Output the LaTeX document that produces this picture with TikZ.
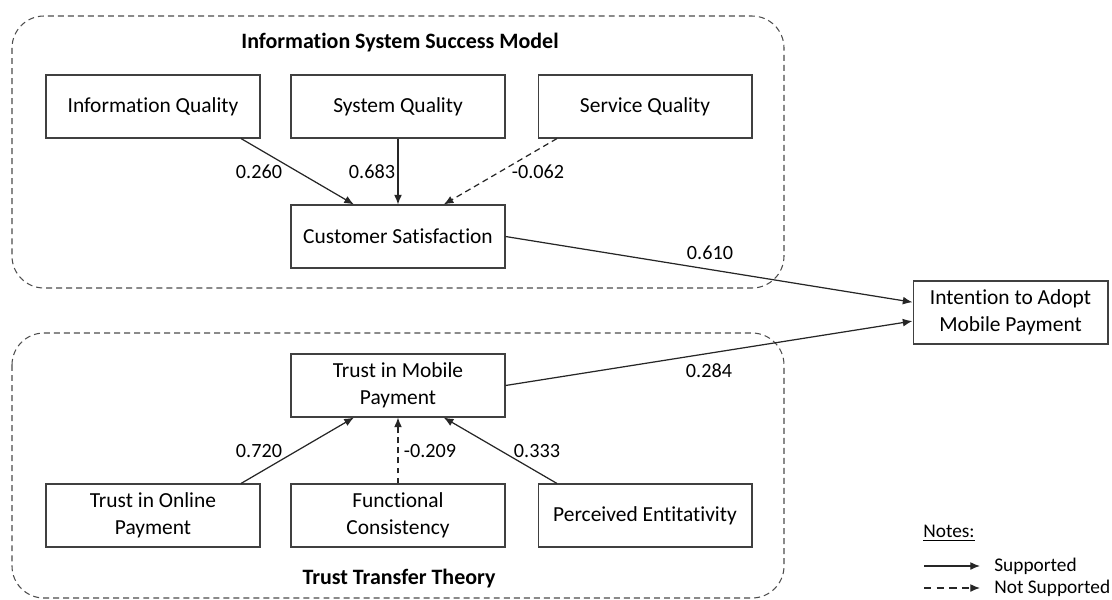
\documentclass[tikz,border=0pt]{standalone}
\usepackage{fontspec}
\setmainfont{Carlito}[Ligatures=NoCommon]
\usetikzlibrary{arrows.meta}
\begin{document}
\begin{tikzpicture}[x=0.02cm,y=-0.02cm,
	box/.style={draw=black!75,line width=0.6pt,minimum width=4.28cm,minimum height=1.26cm,align=center,inner sep=2pt,font=\fontsize{12.2}{15.3}\selectfont},
	grp/.style={draw=black!70,line width=0.6pt,dash pattern=on 3.4pt off 2.3pt,rounded corners=0.64cm},
	pfeil/.style={-{Latex[length=5.5pt,width=4.5pt]},line width=0.7pt,black!85},
	nicht/.style={pfeil,dash pattern=on 3.4pt off 2.3pt},
	wert/.style={font=\fontsize{11.5}{13}\selectfont,inner sep=0pt},
	titel/.style={font=\bfseries\fontsize{12.5}{14}\selectfont,inner sep=0pt}]
	\useasboundingbox (0,0) rectangle (1112,599);
	%\draw[step=50,gray!20] (0,0) grid (1112,599); %Hilfsgitter
	\draw[grp] (12,16) rectangle (784,288);
	\draw[grp] (12,333) rectangle (784,598);
	\node[titel] (ismT) at (400,43) {Information System Success Model};
	\node[titel] (tttT) at (399,579) {Trust Transfer Theory};
	% ISSM
	\node[box] (iq) at (153,106.5) {Information Quality};
	\node[box] (syq) at (398,106.5) {System Quality};
	\node[box] (seq) at (645,106.5) {Service Quality};
	\node[box] (cs) at (398,236.5) {Customer Satisfaction};
	% Trust
	\node[box] (tmp) at (398,385.5) {Trust in Mobile\\Payment};
	\node[box] (top) at (153,515.5) {Trust in Online\\Payment};
	\node[box] (fc) at (398,515.5) {Functional\\Consistency};
	\node[box] (pe) at (645,515.5) {Perceived Entitativity};
	\node[box,minimum width=3.9cm] (int) at (1010.5,312.5) {Intention to Adopt\\Mobile Payment};
	\draw[pfeil] (iq.-20) -- (cs.144);
	\draw[pfeil] (syq.south) -- (cs.north);
	\draw[nicht] (seq.200) -- (cs.35);
	\draw[pfeil] (cs.east) -- (int.174);
	\draw[pfeil] (top.20) -- (tmp.216);
	\draw[nicht] (fc.north) -- (tmp.south);
	\draw[pfeil] (pe.160) -- (tmp.-35);
	\draw[pfeil] (tmp.east) -- (int.185);
	\node[wert] (w1) at (259,172) {0.260};
	\node[wert] (w2) at (372,172) {0.683};
	\node[wert] (w3) at (538,172) {-0.062};
	\node[wert] (w4) at (710,253) {0.610};
	\node[wert] (w5) at (259,451) {0.720};
	\node[wert] (w6) at (430,451) {-0.209};
	\node[wert] (w7) at (537,451) {0.333};
	\node[wert] (w8) at (709,371) {0.284};
	% Legende
	\node[wert,anchor=west,font=\fontsize{11}{13}\selectfont] (notes) at (923,533) {\underline{Notes:}};
	\coordinate (l1a) at (924,566); \coordinate (l1b) at (980,566);
	\coordinate (l2a) at (924,588); \coordinate (l2b) at (980,588);
	\draw[pfeil] (l1a) -- (l1b); \draw[nicht,dash pattern=on 4.2pt off 3pt] (l2a) -- (l2b);
	\node[wert,anchor=west,font=\fontsize{11}{13}\selectfont] (sup) at (994,566) {Supported};
	\node[wert,anchor=west,font=\fontsize{11}{13}\selectfont] (nsup) at (994,588) {Not Supported};
\end{tikzpicture}
\end{document}
